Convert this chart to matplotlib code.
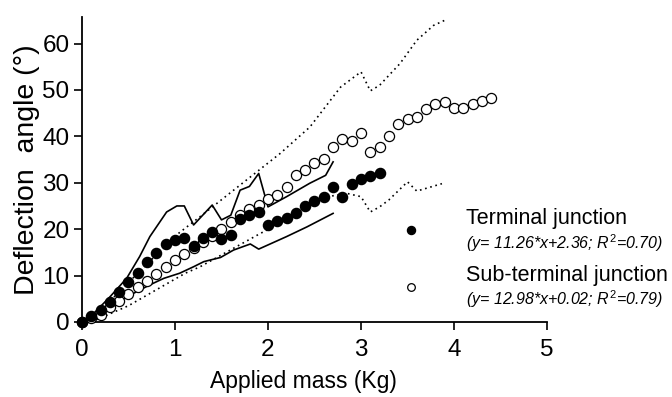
import matplotlib
matplotlib.use("Agg")
import matplotlib.pyplot as plt

plt.rcParams['font.family'] = ['Liberation Sans', 'DejaVu Sans']
plt.rcParams['mathtext.fontset'] = 'custom'
plt.rcParams['mathtext.rm'] = 'Liberation Sans'
plt.rcParams['mathtext.it'] = 'Liberation Sans:italic'

# Terminal junction (filled)
term_x = [0.0, 0.1, 0.2, 0.3, 0.4, 0.5, 0.6, 0.7, 0.8, 0.9, 1.0, 1.1, 1.2, 1.3, 1.4, 1.5, 1.6,
          1.7, 1.8, 1.9, 2.0, 2.1, 2.2, 2.3, 2.4, 2.5, 2.6, 2.7, 2.8, 2.9, 3.0, 3.1, 3.2]
term_y = [0.0, 1.3, 2.6, 4.4, 6.4, 8.6, 10.5, 12.9, 14.8, 16.8, 17.6, 18.0, 16.4, 18.0, 19.4, 17.9, 18.8,
          22.2, 23.0, 23.8, 20.9, 21.8, 22.5, 23.4, 25.0, 26.1, 27.0, 29.0, 27.0, 29.7, 30.7, 31.4, 32.2]

# Sub-terminal junction (open)
sub_x = [0.0, 0.1, 0.2, 0.3, 0.4, 0.5, 0.6, 0.7, 0.8, 0.9, 1.0, 1.1, 1.2, 1.3, 1.4, 1.5, 1.6, 1.7,
         1.8, 1.9, 2.0, 2.1, 2.2, 2.3, 2.4, 2.5, 2.6, 2.7, 2.8, 2.9, 3.0, 3.1, 3.2, 3.3, 3.4, 3.5,
         3.6, 3.7, 3.8, 3.9, 4.0, 4.1, 4.2, 4.3, 4.4]
sub_y = [0.0, 0.8, 1.6, 3.3, 4.6, 6.0, 7.6, 8.8, 10.3, 11.8, 13.3, 14.6, 16.0, 17.3, 18.5, 20.0, 21.6, 23.1,
         24.3, 25.3, 26.6, 27.3, 29.1, 31.6, 32.7, 34.2, 35.2, 37.7, 39.5, 38.9, 40.8, 36.6, 37.7, 40.0, 42.6, 43.8,
         44.2, 45.8, 46.9, 47.4, 46.0, 46.0, 46.9, 47.6, 48.2]

# Solid envelope lines (terminal)
up_solid_x = [0.1, 0.3, 0.48, 0.62, 0.73, 0.91, 1.02, 1.1, 1.2, 1.4, 1.5, 1.6, 1.7, 1.8, 1.9, 2.0, 2.2, 2.45, 2.62, 2.7]
up_solid_y = [1.3, 5.4, 9.4, 14.1, 18.4, 23.7, 25.0, 25.0, 20.9, 25.2, 22.0, 23.0, 28.4, 29.2, 32.0, 24.8, 27.0, 29.9, 31.6, 34.5]
lo_solid_x = [0.1, 0.23, 0.48, 0.73, 0.88, 1.05, 1.2, 1.31, 1.49, 1.63, 1.81, 1.9, 2.0, 2.2, 2.42, 2.7]
lo_solid_y = [1.0, 1.9, 5.4, 8.0, 9.4, 10.5, 11.9, 13.0, 13.9, 15.5, 16.8, 15.7, 16.6, 18.4, 20.5, 23.4]

# Dotted envelope lines (sub-terminal)
up_dot_x = [0.1, 0.5, 1.0, 1.27, 1.7, 2.13, 2.45, 2.78, 3.0, 3.1, 3.2, 3.42, 3.6, 3.78, 3.9]
up_dot_y = [0.5, 8.5, 18.5, 22.7, 29.5, 36.3, 42.0, 50.6, 53.9, 49.8, 51.0, 55.7, 60.7, 63.9, 65.0]
lo_dot_x = [0.1, 0.5, 1.11, 1.27, 1.92, 2.3, 2.6, 2.7, 2.85, 3.0, 3.1, 3.2, 3.3, 3.5, 3.6, 3.87]
lo_dot_y = [0.0, 3.5, 10.5, 11.9, 19.1, 23.0, 26.3, 27.2, 27.7, 27.0, 23.7, 24.8, 26.3, 30.2, 28.2, 29.8]

x_ticks = [0, 1, 2, 3, 4, 5]
y_ticks = [0, 10, 20, 30, 40, 50, 60]

fig = plt.figure(figsize=(6.72, 3.97), dpi=100)
ax = fig.add_axes([0.122, 0.189, 0.692, 0.768])

ax.plot(up_solid_x, up_solid_y, color='black', lw=1.2)
ax.plot(lo_solid_x, lo_solid_y, color='black', lw=1.2)
ax.plot(up_dot_x, up_dot_y, color='black', lw=1.2, linestyle=(0, (1, 2.2)))
ax.plot(lo_dot_x, lo_dot_y, color='black', lw=1.2, linestyle=(0, (1, 2.2)))

ax.plot(sub_x, sub_y, 'o', ms=7.3, mfc='white', mec='black', mew=0.9, ls='none', clip_on=False, zorder=3)
ax.plot(term_x, term_y, 'o', ms=7.3, mfc='black', mec='black', ls='none', clip_on=False, zorder=4)

ax.set_xlim(0, 5)
ax.set_ylim(0, 65.7)
ax.set_xticks(x_ticks)
ax.set_yticks(y_ticks)
ax.tick_params(labelsize=17.5, length=6, width=1.2, direction='out')
ax.tick_params(axis='x', pad=6)
ax.tick_params(axis='y', pad=3)
for s in ['top', 'right']:
    ax.spines[s].set_visible(False)
for s in ['left', 'bottom']:
    ax.spines[s].set_linewidth(1.3)

ax.set_xlabel('Applied mass (Kg)', fontsize=16.5, labelpad=7)
ax.xaxis.label.set_x(0.477)
ax.set_ylabel('Deflection  angle (°)', fontsize=20.5, labelpad=2)

# Legend (manual)
ax.plot([0.708], [0.30], 'o', ms=5.8, mfc='black', mec='black', transform=ax.transAxes, clip_on=False)
ax.plot([0.708], [0.116], 'o', ms=5.5, mfc='white', mec='black', mew=0.9, transform=ax.transAxes, clip_on=False)
fig.text(466 / 672, 1 - 219 / 397, 'Terminal junction', fontsize=15.5, va='center', ha='left')
fig.text(466 / 672, 1 - 243 / 397, r'(y= 11.26*x+2.36; $R^{2}$=0.70)', fontsize=11.5, style='italic', va='center', ha='left')
fig.text(466 / 672, 1 - 275 / 397, 'Sub-terminal junction', fontsize=15.5, va='center', ha='left')
fig.text(466 / 672, 1 - 299 / 397, r'(y= 12.98*x+0.02; $R^{2}$=0.79)', fontsize=11.5, style='italic', va='center', ha='left')

fig.savefig('out.png', dpi=100)
